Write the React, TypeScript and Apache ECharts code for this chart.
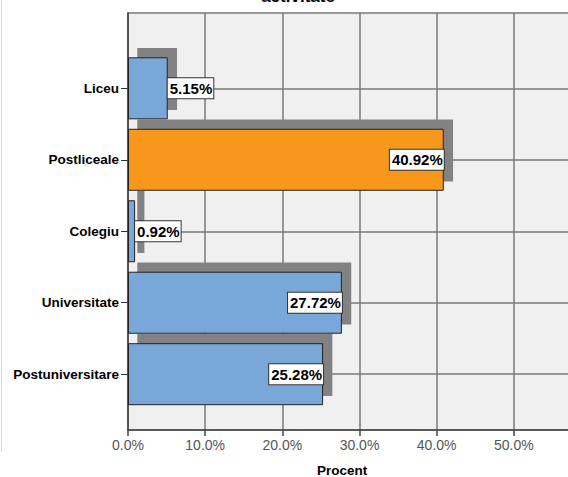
import React, { useEffect, useRef } from "react";
import * as echarts from "echarts";

const categories = ["Liceu", "Postliceale", "Colegiu", "Universitate", "Postuniversitare"];
const percents = [5.15, 40.92, 0.92, 27.72, 25.28];
const barColors = ["#79A8D8", "#F7981D", "#79A8D8", "#79A8D8", "#79A8D8"];
const labelInside = [false, true, false, true, true];
const xTicks = [0, 10, 20, 30, 40, 50, 60];

const FONT = 'Arial, "Liberation Sans", sans-serif';
const GRIDC = "#7a7a7a";
const CHART_W = 620;

export default function App() {
  const ref = useRef<HTMLDivElement>(null);
  useEffect(() => {
    if (!ref.current) return;
    const chart = echarts.init(ref.current, undefined, { renderer: "svg" });
    const xmin = xTicks[0];
    const xmax = xTicks[xTicks.length - 1];
    const rightPad = CHART_W - 591;
    const option: any = {
      animation: false,
      backgroundColor: "#ffffff",
      grid: [
        {
          left: 128,
          right: rightPad,
          top: 13,
          bottom: 47,
          show: true,
          backgroundColor: "#f0f0f0",
          borderColor: GRIDC,
          borderWidth: 1.5,
          z: 0,
        },
        {
          left: 128,
          right: rightPad,
          top: 88.3,
          bottom: 102.8,
          show: false,
        },
      ],
      xAxis: [
        {
          type: "value",
          gridIndex: 0,
          min: xmin,
          max: xmax,
          interval: 10,
          axisLine: { show: true, lineStyle: { color: "#444", width: 1.5 } },
          axisTick: { show: true, length: 6, lineStyle: { color: "#444", width: 1.5 } },
          axisLabel: {
            color: "#555",
            fontSize: 14,
            fontFamily: FONT,
            margin: 8,
            showMaxLabel: false,
            formatter: (v: number) => v.toFixed(1) + "%",
          },
          splitLine: { show: true, lineStyle: { color: GRIDC, width: 1.5 } },
        },
        {
          type: "value",
          gridIndex: 1,
          min: xmin,
          max: xmax,
          show: false,
          splitLine: { show: false },
        },
      ],
      yAxis: [
        {
          type: "value",
          gridIndex: 0,
          min: 0,
          max: 1,
          axisLine: { show: true, lineStyle: { color: "#444", width: 1.5 } },
          axisTick: { show: false },
          axisLabel: { show: false },
          splitLine: { show: false },
        },
        {
          type: "category",
          gridIndex: 1,
          data: categories,
          inverse: true,
          boundaryGap: false,
          axisLine: { show: false },
          axisTick: { show: true, length: 7, interval: 0, lineStyle: { color: "#333", width: 1 } },
          axisLabel: {
            color: "#000",
            fontSize: 13.5,
            fontWeight: "bold",
            fontFamily: FONT,
            margin: 9,
            interval: 0,
          },
          splitLine: { show: true, interval: 0, lineStyle: { color: GRIDC, width: 1.5 } },
        },
      ],
      series: [
        {
          type: "custom",
          xAxisIndex: 1,
          yAxisIndex: 1,
          z: 1,
          clip: false,
          encode: { x: 0, y: 1 },
          data: percents.map((v, i) => [v, i]),
          renderItem: (params: any, api: any) => {
            const end = api.coord([api.value(0), api.value(1)]);
            const start = api.coord([0, api.value(1)]);
            const h = 62;
            const off = 9.3;
            return {
              type: "rect",
              shape: {
                x: start[0] + off,
                y: end[1] - h / 2 - off,
                width: end[0] - start[0],
                height: h,
              },
              style: { fill: "#828282" },
            };
          },
        },
        {
          type: "bar",
          xAxisIndex: 1,
          yAxisIndex: 1,
          z: 2,
          barWidth: 62,
          data: percents.map((v, i) => ({
            value: v,
            itemStyle: { color: barColors[i], borderColor: "#222", borderWidth: 1 },
            label: {
              show: true,
              position: labelInside[i] ? "insideRight" : "right",
              distance: 0,
            },
          })),
          label: {
            show: true,
            formatter: (p: any) => p.value.toFixed(2) + "%",
            color: "#000",
            fontSize: 15,
            fontWeight: "bold",
            fontFamily: FONT,
            backgroundColor: "#ffffff",
            borderColor: "#333",
            borderWidth: 1,
            padding: [3, 1, 2, 2],
          },
        },
      ],
      graphic: [
        {
          type: "text",
          x: 298,
          y: -4,
          style: {
            text: "activitate",
            fontSize: 17,
            fontWeight: "bold",
            fontFamily: FONT,
            fill: "#000",
            align: "center",
            verticalAlign: "middle",
          },
        },
        {
          type: "text",
          x: 342,
          y: 470,
          style: {
            text: "Procent",
            fontSize: 13.5,
            fontWeight: "bold",
            fontFamily: FONT,
            fill: "#000",
            align: "center",
            verticalAlign: "middle",
          },
        },
        {
          type: "line",
          shape: { x1: 1.5, y1: 0, x2: 1.5, y2: 452 },
          style: { stroke: "#dcdcdc", lineWidth: 1 },
        },
      ],
    };
    chart.setOption(option);
    return () => chart.dispose();
  }, []);
  return (
    <div
      style={{
        position: "absolute",
        left: 0,
        top: 0,
        width: 568,
        height: 477,
        overflow: "hidden",
      }}
    >
      <div ref={ref} style={{ width: CHART_W, height: 477 }} />
    </div>
  );
}
